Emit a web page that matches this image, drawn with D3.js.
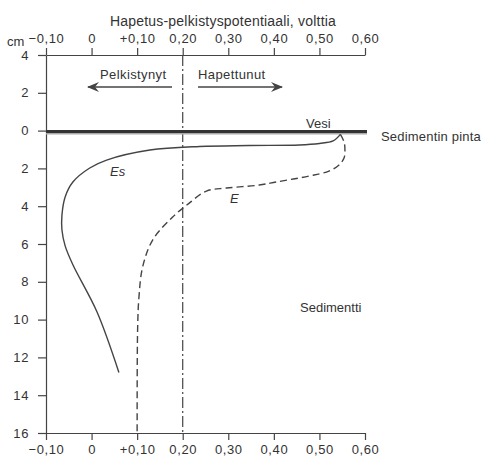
<!DOCTYPE html>
<html>
<head>
<meta charset="utf-8">
<script src="https://cdn.jsdelivr.net/npm/d3@7"></script>
<style>
  body { margin: 0; background: #fff; }
  svg text { font-family: "Liberation Sans", Arial, sans-serif; fill: #333; }
</style>
</head>
<body>
<svg id="chart" width="493" height="459"></svg>
<script>
"use strict";

// potential (V) ticks and labels
const xTickValues = [-0.1, 0, 0.1, 0.2, 0.3, 0.4, 0.5, 0.6];
const xTickLabels = ["\u22120,10", "0", "+0,10", "0,20", "0,30", "0,40", "0,50", "0,60"];
// depth (cm), negative = above the sediment surface
const yTickValues = [-4, -2, 0, 2, 4, 6, 8, 10, 12, 14, 16];
const yTickLabels = ["4", "2", "0", "2", "4", "6", "8", "10", "12", "14", "16"];

// Es curve: [potential, depth]
const esPotential = [0.546, 0.53, 0.5, 0.456, 0.346, 0.237, 0.128, 0.033, -0.004, -0.041, -0.058, -0.065, -0.065, -0.058, -0.041, 0.012, 0.06];
const esDepth = [0.2, 0.55, 0.68, 0.76, 0.79, 0.84, 1.03, 1.56, 1.98, 2.72, 3.51, 4.47, 5.26, 6.1, 7.1, 9.6, 12.8];

// E curve
const ePotential = [0.546, 0.554, 0.556, 0.554, 0.543, 0.521, 0.478, 0.405, 0.368, 0.296, 0.252, 0.209, 0.178, 0.134, 0.112, 0.104, 0.101, 0.1];
const eDepth = [0.2, 0.6, 1.03, 1.45, 1.82, 2.14, 2.4, 2.72, 2.88, 3.04, 3.2, 3.94, 4.57, 5.79, 7.22, 8.8, 10.55, 16];

const svg = d3.select("#chart");
const ink = "#444";

const x = d3.scaleLinear().domain([-0.1, 0.6]).range([46, 365]);
const y = d3.scaleLinear().domain([-4, 16]).range([55, 433]);

function styleAxis(g) {
  g.selectAll("path, line").attr("stroke", ink).attr("stroke-width", 1.2);
  g.selectAll("text").attr("fill", "#333").style("font-size", "13px").style("letter-spacing", "0.6px");
}

// top axis
svg.append("g")
  .attr("transform", `translate(0,${y(-4)})`)
  .call(d3.axisTop(x).tickValues(xTickValues).tickSize(7).tickSizeOuter(0).tickPadding(5)
    .tickFormat((d, i) => xTickLabels[i]))
  .call(styleAxis);

// bottom axis
svg.append("g")
  .attr("transform", `translate(0,${y(16)})`)
  .call(d3.axisBottom(x).tickValues(xTickValues).tickSize(7).tickSizeOuter(0).tickPadding(5)
    .tickFormat((d, i) => xTickLabels[i]))
  .call(styleAxis);

// left axis
svg.append("g")
  .attr("transform", `translate(${x(-0.1)},0)`)
  .call(d3.axisLeft(y).tickValues(yTickValues).tickSize(8).tickSizeOuter(0).tickPadding(9)
    .tickFormat((d, i) => yTickLabels[i]))
  .call(styleAxis);

svg.append("text").attr("x", 223).attr("y", 26).attr("text-anchor", "middle")
  .style("font-size", "14px").style("letter-spacing", "0.2px")
  .text("Hapetus-pelkistyspotentiaali, volttia");
svg.append("text").attr("x", 7).attr("y", 46).style("font-size", "13px").text("cm");

// boundary between reduced and oxidised
svg.append("line")
  .attr("x1", x(0.2)).attr("x2", x(0.2))
  .attr("y1", y(-4)).attr("y2", y(16))
  .attr("stroke", ink).attr("stroke-width", 1.2)
  .attr("stroke-dasharray", "11,3,2,3");

// sediment surface
svg.append("line")
  .attr("x1", x(-0.1)).attr("x2", x(0.6) + 2)
  .attr("y1", y(0) + 3).attr("y2", y(0) + 3)
  .attr("stroke", "#aaa").attr("stroke-width", 2);
svg.append("line")
  .attr("x1", x(-0.1)).attr("x2", x(0.6) + 2)
  .attr("y1", y(0) + 1).attr("y2", y(0) + 1)
  .attr("stroke", "#333").attr("stroke-width", 3);

// arrows
const defs = svg.append("defs");
defs.append("marker")
  .attr("id", "head")
  .attr("viewBox", "0 0 12 10")
  .attr("refX", 11).attr("refY", 5)
  .attr("markerWidth", 12).attr("markerHeight", 10)
  .attr("markerUnits", "userSpaceOnUse")
  .attr("orient", "auto-start-reverse")
  .append("path")
  .attr("d", "M0,0 L12,5 L0,10 L4,5 Z")
  .attr("fill", ink);

svg.append("line")
  .attr("x1", 172).attr("x2", 88).attr("y1", 87).attr("y2", 87)
  .attr("stroke", ink).attr("stroke-width", 1.3)
  .attr("marker-end", "url(#head)");
svg.append("line")
  .attr("x1", 198).attr("x2", 282).attr("y1", 87).attr("y2", 87)
  .attr("stroke", ink).attr("stroke-width", 1.3)
  .attr("marker-end", "url(#head)");

svg.append("text").attr("x", 100).attr("y", 79).style("font-size", "13px").style("letter-spacing", "0.4px").text("Pelkistynyt");
svg.append("text").attr("x", 198).attr("y", 79).style("font-size", "13px").style("letter-spacing", "0.4px").text("Hapettunut");

// curves
const line = d3.line()
  .x(d => x(d[0]))
  .y(d => y(d[1]))
  .curve(d3.curveCatmullRom.alpha(0.5));

const esData = esPotential.map((p, i) => [p, esDepth[i]]);
const eData = ePotential.map((p, i) => [p, eDepth[i]]);

svg.append("path").datum(esData)
  .attr("d", line).attr("fill", "none")
  .attr("stroke", ink).attr("stroke-width", 1.4);
svg.append("path").datum(eData)
  .attr("d", line).attr("fill", "none")
  .attr("stroke", ink).attr("stroke-width", 1.4)
  .attr("stroke-dasharray", "7,4");

// labels
svg.append("text").attr("x", 306).attr("y", 128).style("font-size", "13px").text("Vesi");
svg.append("text").attr("x", 381).attr("y", 141).style("font-size", "13px").style("letter-spacing", "0.2px").text("Sedimentin pinta");
svg.append("text").attr("x", 300).attr("y", 312).style("font-size", "13px").text("Sedimentti");
svg.append("text").attr("x", 110).attr("y", 176).style("font-size", "13px").style("font-style", "italic").text("Es");
svg.append("text").attr("x", 230).attr("y", 203).style("font-size", "13px").style("font-style", "italic").text("E");
</script>
</body>
</html>
